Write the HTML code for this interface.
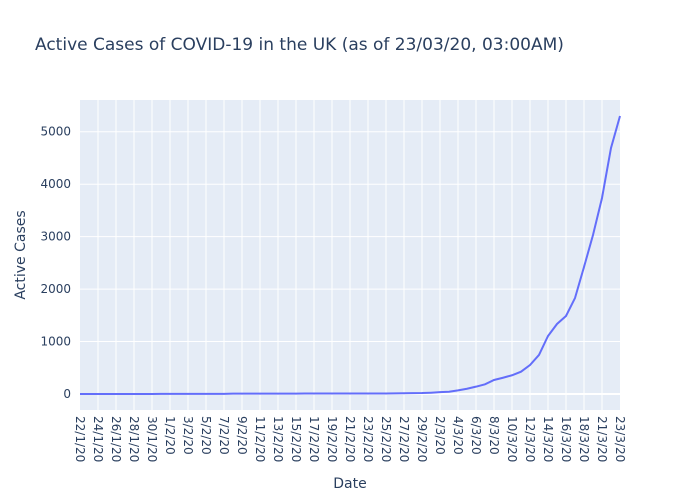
<!DOCTYPE html>
<html><head><meta charset="utf-8"><style>
body{margin:0;background:#fff;font-family:"DejaVu Sans",sans-serif}
svg text{font-family:"DejaVu Sans",sans-serif;fill:#2a3f5f}
</style></head><body>
<svg id="c" width="700" height="500">
<text x="35" y="50" font-size="17">Active Cases of COVID-19 in the UK (as of 23/03/20, 03:00AM)</text>
<rect x="80" y="100" width="540" height="310" fill="#e5ecf6"/>
<g id="grid"></g><g id="ticks"></g><g id="line"></g>
<text x="350" y="488" font-size="14" text-anchor="middle">Date</text>
<text transform="translate(25,255) rotate(-90)" font-size="14" text-anchor="middle">Active Cases</text>
</svg>
<script>
const values=[0,0,0,0,0,0,0,0,0,2,2,2,2,2,2,2,3,8,8,8,8,8,8,8,8,9,9,9,9,9,9,9,9,9,9,12,14,16,18,25,35,44,70,100,140,185,267,310,357,425,553,744,1106,1335,1487,1830,2421,3031,3737,4690,5300];
const yTicks=[0,1000,2000,3000,4000,5000];
const cats=[];
(function(){const d=new Date(2020,0,22);while(d<=new Date(2020,2,23)){if(!(d.getMonth()==2&&d.getDate()==20))cats.push(d.getDate()+'/'+(d.getMonth()+1)+'/20');d.setDate(d.getDate()+1);}})();
const NS='http://www.w3.org/2000/svg';
const X0=80,X1=620,Y0=410,Y1=100,ymin=-305,ymax=5605;
const xs=i=>X0+(X1-X0)*i/(cats.length-1);
const ys=v=>Y0-(v-ymin)/(ymax-ymin)*(Y0-Y1);
function mk(t,a,p){const e=document.createElementNS(NS,t);for(const k in a)e.setAttribute(k,a[k]);p.appendChild(e);return e;}
const g=document.getElementById('grid'),tk=document.getElementById('ticks'),ln=document.getElementById('line');
cats.forEach((c,i)=>{if(i%2)return;const x=xs(i);
 if(i>0&&i<cats.length-1){const l=mk('line',{x1:x,x2:x,y1:Y1,y2:Y0,stroke:'#fff','stroke-width':1},g);
 
 }
 const t=mk('text',{transform:`translate(${x-4},416) rotate(90)`,'font-size':12},tk);t.textContent=c;
 
 });
yTicks.forEach(v=>{const y=ys(v);
 const l=mk('line',{x1:X0,x2:X1,y1:y,y2:y,stroke:'#fff','stroke-width':v==0?2:1},g);
 
 
 const t=mk('text',{x:71,y:y+4,'font-size':12,'text-anchor':'end'},tk);t.textContent=v;
 
 });
const p=mk('path',{d:values.map((v,i)=>(i?'L':'M')+xs(i)+','+ys(v)).join(''),fill:'none',stroke:'#636efa','stroke-width':2},ln);


</script>
</body></html>
